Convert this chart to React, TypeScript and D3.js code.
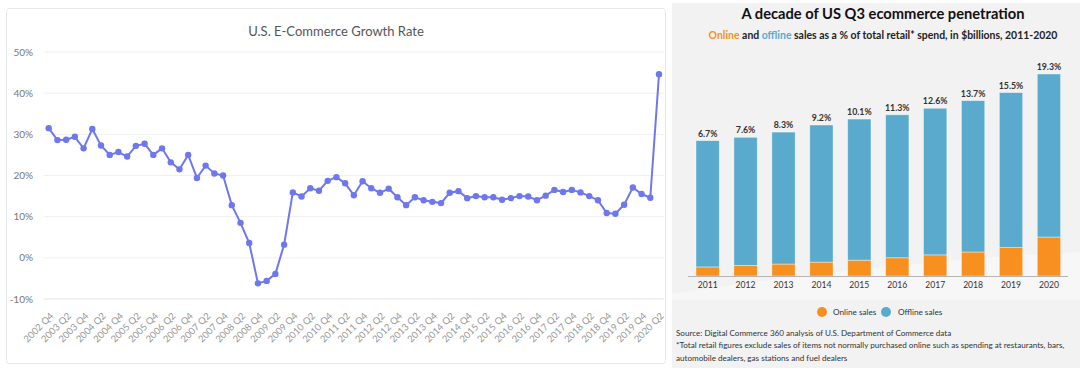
import React from "react";
import * as d3 from "d3";

// quarterly U.S. e-commerce growth rate (%), 2002 Q4 .. 2020 Q2
const quarters = [
  "2002 Q4",
  "2003 Q1", "2003 Q2", "2003 Q3", "2003 Q4",
  "2004 Q1", "2004 Q2", "2004 Q3", "2004 Q4",
  "2005 Q1", "2005 Q2", "2005 Q3", "2005 Q4",
  "2006 Q1", "2006 Q2", "2006 Q3", "2006 Q4",
  "2007 Q1", "2007 Q2", "2007 Q3", "2007 Q4",
  "2008 Q1", "2008 Q2", "2008 Q3", "2008 Q4",
  "2009 Q1", "2009 Q2", "2009 Q3", "2009 Q4",
  "2010 Q1", "2010 Q2", "2010 Q3", "2010 Q4",
  "2011 Q1", "2011 Q2", "2011 Q3", "2011 Q4",
  "2012 Q1", "2012 Q2", "2012 Q3", "2012 Q4",
  "2013 Q1", "2013 Q2", "2013 Q3", "2013 Q4",
  "2014 Q1", "2014 Q2", "2014 Q3", "2014 Q4",
  "2015 Q1", "2015 Q2", "2015 Q3", "2015 Q4",
  "2016 Q1", "2016 Q2", "2016 Q3", "2016 Q4",
  "2017 Q1", "2017 Q2", "2017 Q3", "2017 Q4",
  "2018 Q1", "2018 Q2", "2018 Q3", "2018 Q4",
  "2019 Q1", "2019 Q2", "2019 Q3", "2019 Q4",
  "2020 Q1", "2020 Q2",
];
const growthRate = [
  31.5, 28.6, 28.7, 29.4, 26.6, 31.3, 27.3, 25.0, 25.7, 24.6,
  27.2, 27.7, 25.0, 26.6, 23.2, 21.5, 25.0, 19.4, 22.4, 20.5,
  20.0, 12.8, 8.5, 3.6, -6.2, -5.6, -3.9, 3.2, 15.9, 14.9,
  16.9, 16.3, 18.7, 19.6, 18.1, 15.2, 18.6, 16.9, 15.8, 16.8,
  14.7, 12.8, 14.7, 14.0, 13.6, 13.3, 15.8, 16.2, 14.5, 15.0,
  14.7, 14.7, 14.1, 14.5, 15.0, 14.9, 14.0, 15.1, 16.5, 16.0,
  16.5, 15.9, 15.0, 14.0, 10.9, 10.7, 12.9, 17.1, 15.5, 14.6,
  44.6,
];
const growthTicks = [-10, 0, 10, 20, 30, 40, 50];

// Q3 retail spend, $billions
const years = ["2011", "2012", "2013", "2014", "2015", "2016", "2017", "2018", "2019", "2020"];
const onlineSales = [48.7, 56.6, 64.2, 74.6, 85.1, 97.9, 113.5, 129.0, 152.7, 209.4];
const offlineSales = [678.3, 688.4, 708.8, 736.4, 757.9, 768.1, 787.5, 813.0, 832.3, 875.6];
const onlineShare = ["6.7%", "7.6%", "8.3%", "9.2%", "10.1%", "11.3%", "12.6%", "13.7%", "15.5%", "19.3%"];

const ORANGE = "#f7901e";
const BLUE = "#5aaacd";
const LINE = "#6e77ee";
const FONT = "Lato, 'Open Sans', sans-serif";

function GrowthChart() {
  const x = d3.scalePoint().domain(quarters).range([48.7, 659]);
  const y = d3.scaleLinear().domain([-10, 50]).range([299, 52]);
  const line = d3
    .line<number>()
    .x((d, i) => x(quarters[i]) as number)
    .y((d) => y(d));

  return (
    <g fontFamily={FONT}>
      <rect x={6.5} y={8.5} width={659} height={355} rx={3} fill="#fff" stroke="#e6e8ee" />
      <text x={336} y={35.5} textAnchor="middle" fontSize={13} fill="#555">
        U.S. E-Commerce Growth Rate
      </text>
      {growthTicks.map((t) => (
        <g key={t}>
          <line x1={44} x2={664} y1={y(t)} y2={y(t)} stroke={t === -10 ? "#dde3f0" : "#eef0f3"} />
          <text x={33} y={y(t) + 3.5} textAnchor="end" fontSize={10} fill="#777">
            {t + "%"}
          </text>
        </g>
      ))}
      <path d={line(growthRate) || ""} fill="none" stroke={LINE} strokeWidth={2} />
      {growthRate.map((d, i) => (
        <circle key={i} cx={x(quarters[i])} cy={y(d)} r={3.2} fill={LINE} />
      ))}
      {quarters
        .filter((q, i) => i % 2 === 0)
        .map((q) => {
          const px = (x(q) as number) + 5.5;
          return (
            <text
              key={q}
              transform={`translate(${px},316.5) rotate(-45)`}
              textAnchor="end"
              fontSize={9.5}
              fill="#999"
            >
              {q}
            </text>
          );
        })}
    </g>
  );
}

function PenetrationChart() {
  const x = d3.scaleBand().domain(years).range([688.8, 1067.8]).paddingInner(0.385).paddingOuter(0.19);
  const y = d3.scaleLinear().domain([0, 1085]).range([276, 74]);
  const stack = d3
    .stack<number>()
    .keys(["online", "offline"])
    .value((i, key) => (key === "online" ? onlineSales[i] : offlineSales[i]));
  const series = stack(years.map((_, i) => i));
  const colors = [ORANGE, BLUE];

  return (
    <g fontFamily={FONT}>
      <rect x={672} y={3} width={408} height={365} fill="#f2f2f2" />
      <path d="M672,294 Q880,262 1080,252 L1080,300 Q880,300 672,300 Z" fill="#f7f7f7" />
      <text x={883} y={19} textAnchor="middle" fontSize={14.7} fontWeight="bold" fill="#111">
        A decade of US Q3 ecommerce penetration
      </text>
      <text x={883} y={38.5} textAnchor="middle" fontSize={10.45} fontWeight="bold" fill="#222">
        <tspan fill={ORANGE}>Online</tspan>
        <tspan>{" and "}</tspan>
        <tspan fill={BLUE}>offline</tspan>
        <tspan>{" sales as a % of total retail* spend, in $billions, 2011-2020"}</tspan>
      </text>
      {series.map((s, si) =>
        s.map((d, i) => (
          <rect
            key={si + "-" + i}
            x={x(years[i])}
            y={y(d[1])}
            width={x.bandwidth()}
            height={y(d[0]) - y(d[1])}
            fill={colors[si]}
            stroke="#fff"
            strokeOpacity={0.5}
            strokeWidth={0.8}
          />
        ))
      )}
      <line x1={688} x2={1068} y1={276.5} y2={276.5} stroke="#b5b5b5" />
      {years.map((yr, i) => (
        <g key={yr}>
          <text
            x={(x(yr) as number) + x.bandwidth() / 2}
            y={y(onlineSales[i] + offlineSales[i]) - 4}
            textAnchor="middle"
            fontSize={8.8}
            fontWeight="bold"
            fill="#333"
          >
            {onlineShare[i]}
          </text>
          <text x={(x(yr) as number) + x.bandwidth() / 2} y={288} textAnchor="middle" fontSize={8.6} fill="#333">
            {yr}
          </text>
        </g>
      ))}
      <circle cx={822} cy={312} r={5} fill={ORANGE} />
      <text x={833} y={315} fontSize={8.2} fill="#333">
        Online sales
      </text>
      <circle cx={886} cy={312} r={5} fill={BLUE} />
      <text x={898} y={315} fontSize={8.2} fill="#333">
        Offline sales
      </text>
      <g fontSize={8.1} fill="#333">
        <text x={676} y={335.5}>
          Source: Digital Commerce 360 analysis of U.S. Department of Commerce data
        </text>
        <text x={676} y={348}>
          *Total retail figures exclude sales of items not normally purchased online such as spending at restaurants, bars,
        </text>
        <text x={676} y={360.5}>
          automobile dealers, gas stations and fuel dealers
        </text>
      </g>
    </g>
  );
}

export default function App() {
  return (
    <svg width={1080} height={374} style={{ position: "absolute", left: 0, top: 0, background: "#fff" }}>
      <GrowthChart />
      <PenetrationChart />
    </svg>
  );
}
